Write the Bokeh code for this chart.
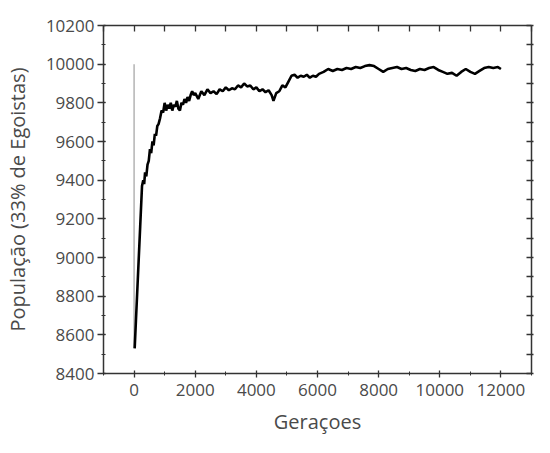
from bokeh.plotting import figure
from bokeh.models import LinearAxis, Range1d, SingleIntervalTicker
from bokeh.embed import file_html
from bokeh.resources import INLINE

# Data
drop_gen = [0, 0]
drop_pop = [10000, 8530]

generations = [20, 60, 100, 150, 200, 260, 300, 330, 360, 400, 440, 480, 520, 560, 600,
               640, 680, 720, 760, 800, 850, 900, 950, 1000, 1050, 1100, 1150, 1200, 1250,
               1300, 1350, 1400, 1450, 1500, 1550, 1600, 1650, 1700, 1750, 1800, 1850, 1900,
               1950, 2000, 2100, 2200, 2300, 2400, 2500, 2600, 2700, 2800, 2900, 3000, 3100,
               3200, 3300, 3400, 3500, 3600, 3700, 3800, 3900, 4000, 4100, 4200, 4300, 4400,
               4500, 4560, 4650, 4750, 4850, 4950, 5050, 5150, 5250, 5350, 5450, 5550, 5650,
               5750, 5850, 5950, 6050, 6200, 6350, 6500, 6650, 6800, 6950, 7100, 7250, 7400,
               7550, 7700, 7850, 8000, 8150, 8300, 8450, 8600, 8750, 8900, 9050, 9200, 9350,
               9500, 9650, 9800, 9950, 10100, 10250, 10400, 10550, 10700, 10850, 11000, 11150,
               11300, 11450, 11600, 11750, 11900, 12000]
population = [8530, 8670, 8810, 8985, 9160, 9370, 9400, 9380, 9440, 9420, 9480, 9500, 9560,
              9540, 9600, 9580, 9640, 9630, 9680, 9690, 9720, 9760, 9750, 9800, 9760, 9790,
              9770, 9800, 9760, 9790, 9780, 9810, 9770, 9760, 9800, 9790, 9820, 9800, 9830,
              9810, 9840, 9860, 9840, 9850, 9820, 9860, 9840, 9870, 9850, 9860, 9845, 9870,
              9860, 9880, 9865, 9875, 9870, 9890, 9880, 9900, 9885, 9890, 9870, 9880, 9860,
              9870, 9855, 9865, 9840, 9810, 9850, 9860, 9890, 9880, 9910, 9940, 9945, 9930,
              9940, 9935, 9945, 9930, 9940, 9935, 9950, 9960, 9975, 9965, 9975, 9970, 9980,
              9975, 9985, 9980, 9990, 9995, 9990, 9975, 9960, 9975, 9980, 9985, 9975, 9980,
              9970, 9965, 9975, 9970, 9980, 9985, 9970, 9960, 9950, 9955, 9940, 9960, 9975,
              9960, 9950, 9965, 9980, 9985, 9980, 9985, 9975]

x_ticks = [0, 2000, 4000, 6000, 8000, 10000, 12000]
y_ticks = [8400, 8600, 8800, 9000, 9200, 9400, 9600, 9800, 10000, 10200]

FONT = "Open Sans"
AXIS_COLOR = "#333333"
TEXT_COLOR = "#4a4a4a"

p = figure(width=534, height=437, output_backend="svg", toolbar_location=None,
           x_range=Range1d(-1000, 13000), y_range=Range1d(8400, 10200),
           min_border_left=102, min_border_top=25, min_border_right=3, min_border_bottom=64)
p.outline_line_color = None
p.grid.visible = False
p.background_fill_color = "white"
p.border_fill_color = "white"

p.line(drop_gen, drop_pop, line_color="#a0a0a0", line_width=1.2)
p.line(generations, population, line_color="black", line_width=2.6)

def style(ax, labels=True):
    ax.axis_line_color = AXIS_COLOR
    ax.axis_line_width = 1.5
    ax.major_tick_line_color = AXIS_COLOR
    ax.minor_tick_line_color = AXIS_COLOR
    ax.major_tick_line_width = 1.3
    ax.minor_tick_line_width = 1.0
    ax.major_label_text_font = FONT
    ax.major_label_text_font_size = "17px"
    ax.major_label_text_color = TEXT_COLOR
    ax.axis_label_text_font = FONT
    ax.axis_label_text_font_size = "20px"
    ax.axis_label_text_font_style = "normal"
    ax.axis_label_text_color = TEXT_COLOR
    if not labels:
        ax.major_label_text_font_size = "0px"
        ax.major_label_text_alpha = 0

p.xaxis.ticker = SingleIntervalTicker(interval=2000, num_minor_ticks=2)
p.yaxis.ticker = SingleIntervalTicker(interval=200, num_minor_ticks=2)
style(p.xaxis[0])
style(p.yaxis[0])
p.xaxis.axis_label = "Geraçoes"
p.yaxis.axis_label = "População (33% de Egoistas)"
p.xaxis.major_tick_in = 3
p.xaxis.major_tick_out = 4
p.xaxis.minor_tick_in = 2
p.xaxis.minor_tick_out = 2
p.xaxis.major_label_standoff = 6
p.xaxis.axis_label_standoff = 9
p.yaxis.major_tick_in = 2
p.yaxis.major_tick_out = 6
p.yaxis.minor_tick_in = 2
p.yaxis.minor_tick_out = 2
p.yaxis.major_label_standoff = 3
p.yaxis.axis_label_standoff = 12

top = LinearAxis(ticker=SingleIntervalTicker(interval=1000, num_minor_ticks=0))
style(top, labels=False)
top.major_tick_in = 6
top.major_tick_out = 0
top.major_label_standoff = 0
p.add_layout(top, "above")

right = LinearAxis(ticker=SingleIntervalTicker(interval=100, num_minor_ticks=0))
style(right, labels=False)
right.major_tick_in = 5
right.major_tick_out = 2
right.major_label_standoff = 0
p.add_layout(right, "right")

open("out.html", "w").write(file_html(p, INLINE))
